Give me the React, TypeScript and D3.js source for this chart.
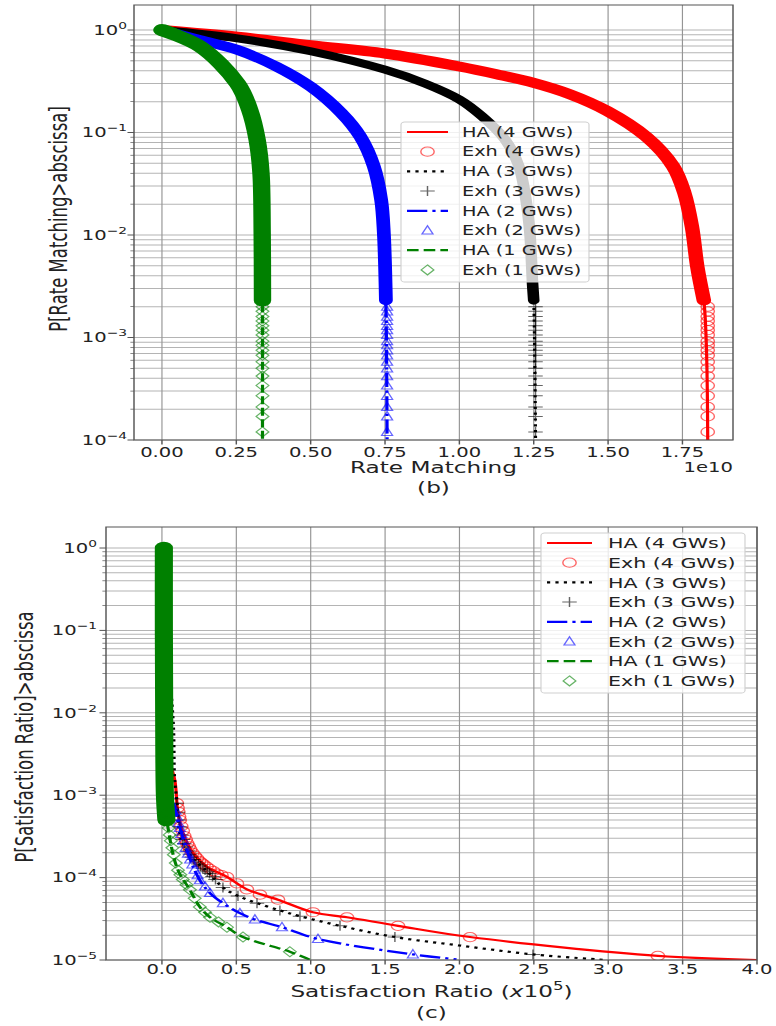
import React from 'react';
import * as d3 from 'd3';

type Pt = [number, number];

// the reference picture is stretched sideways, so draw in a narrower box and let the svg stretch it
const SX = 1.45;
const VW = 776 / SX;
const sx = (v: number) => v / SX;

const seriesColors = ['#ff0000', '#000000', '#0000ff', '#008000'];
const seriesDash = ['none', '2.2,3.6', '14,3.5,2.2,3.5', '8,3.5'];
const seriesShape = ['circle', 'plus', 'triangle', 'diamond'];
const legendNames = [
  'HA (4 GWs)', 'Exh (4 GWs)', 'HA (3 GWs)', 'Exh (3 GWs)',
  'HA (2 GWs)', 'Exh (2 GWs)', 'HA (1 GWs)', 'Exh (1 GWs)',
];

// ---- (b) Rate Matching, x in units of 1e10 ----
const rmTicks = [0, 0.25, 0.5, 0.75, 1.0, 1.25, 1.5, 1.75];
const rmDecades = [0, -1, -2, -3, -4];
const rmHA4: Pt[] = [[0, 1], [0.254, 0.86], [0.5, 0.71], [0.75, 0.59], [1.0, 0.44], [1.125, 0.37], [1.25, 0.305], [1.37, 0.237], [1.497, 0.162], [1.628, 0.091], [1.718, 0.047], [1.756, 0.026], [1.782, 0.012], [1.8, 4.9e-3], [1.822, 2.3e-3]];
const rmHA3: Pt[] = [[0, 1], [0.254, 0.83], [0.5, 0.62], [0.75, 0.41], [0.885, 0.3], [1.0, 0.21], [1.077, 0.143], [1.154, 0.085], [1.2, 0.047], [1.224, 0.022], [1.237, 0.0105], [1.246, 3.4e-3], [1.25, 2.3e-3]];
const rmHA2: Pt[] = [[0, 1], [0.128, 0.8], [0.254, 0.64], [0.385, 0.44], [0.5, 0.28], [0.603, 0.155], [0.667, 0.091], [0.712, 0.047], [0.737, 0.022], [0.746, 0.0105], [0.753, 2.3e-3]];
const rmHA1: Pt[] = [[0, 1], [0.128, 0.69], [0.254, 0.3], [0.295, 0.166], [0.32, 0.085], [0.333, 0.04], [0.337, 0.0105], [0.338, 2.3e-3]];
const rmTailX = [1.835, 1.256, 0.757, 0.338];
const rmTailP = [2.0e-3, 1.8e-3, 1.6e-3, 1.45e-3, 1.3e-3, 1.18e-3, 1.06e-3, 9.2e-4, 8.4e-4, 7.5e-4, 6.7e-4, 5.8e-4, 5.0e-4, 4.2e-4, 3.4e-4, 2.7e-4, 2.1e-4, 1.7e-4, 1.2e-4];
const rmMinP = 1e-4;

// ---- (c) Satisfaction Ratio, x in units of 1e5 ----
const srTicks = [0, 0.5, 1.0, 1.5, 2.0, 2.5, 3.0, 3.5, 4.0];
const srDecades = [0, -1, -2, -3, -4, -5];
const srHA4: Pt[] = [[0.01, 1], [0.015, 0.1], [0.02, 0.01], [0.04, 3.2e-3], [0.087, 1.5e-3], [0.108, 6.0e-4], [0.141, 3.5e-4], [0.208, 2.0e-4], [0.303, 1.35e-4], [0.437, 1.02e-4], [0.571, 7.2e-5], [0.78, 5.4e-5], [1.015, 3.8e-5], [1.244, 3.3e-5], [1.587, 2.6e-5], [2.071, 1.9e-5], [3.334, 1.12e-5], [4.0, 1.0e-5]];
const srExh4: Pt[] = [[0.1, 8e-4], [0.105, 7e-4], [0.11, 6.3e-4], [0.115, 5.5e-4], [0.12, 5e-4], [0.13, 4.2e-4], [0.14, 3.7e-4], [0.15, 3.2e-4], [0.16, 2.9e-4], [0.17, 2.6e-4], [0.18, 2.4e-4], [0.19, 2.2e-4], [0.205, 2.0e-4], [0.22, 1.85e-4], [0.235, 1.72e-4], [0.25, 1.6e-4], [0.265, 1.52e-4], [0.28, 1.45e-4], [0.3, 1.36e-4], [0.32, 1.28e-4], [0.345, 1.2e-4], [0.37, 1.12e-4], [0.4, 1.07e-4], [0.437, 1.02e-4], [0.504, 8.5e-5], [0.571, 7.2e-5], [0.659, 6.2e-5], [0.78, 5.4e-5], [1.015, 3.8e-5], [1.244, 3.3e-5], [1.587, 2.6e-5], [2.071, 1.9e-5], [3.334, 1.12e-5]];
const srHA3: Pt[] = [[0.01, 1], [0.03, 0.1], [0.06, 0.02], [0.078, 6.3e-3], [0.085, 1.6e-3], [0.1, 8.7e-4], [0.13, 2.9e-4], [0.2, 1.78e-4], [0.32, 1.12e-4], [0.41, 7.6e-5], [0.511, 6.0e-5], [0.639, 4.9e-5], [0.793, 4.0e-5], [0.928, 3.4e-5], [1.197, 2.6e-5], [1.566, 1.9e-5], [2.0, 1.5e-5], [2.494, 1.17e-5], [2.99, 1.0e-5]];
const srExh3: Pt[] = [[0.1, 8e-4], [0.108, 6.2e-4], [0.115, 5e-4], [0.122, 4.1e-4], [0.13, 3.3e-4], [0.14, 2.9e-4], [0.15, 2.6e-4], [0.162, 2.35e-4], [0.175, 2.1e-4], [0.188, 1.92e-4], [0.2, 1.78e-4], [0.215, 1.66e-4], [0.23, 1.55e-4], [0.245, 1.46e-4], [0.26, 1.38e-4], [0.275, 1.3e-4], [0.29, 1.24e-4], [0.305, 1.18e-4], [0.32, 1.12e-4], [0.34, 1.03e-4], [0.36, 9.5e-5], [0.41, 7.6e-5], [0.511, 6.0e-5], [0.639, 4.9e-5], [0.793, 4.0e-5], [0.928, 3.4e-5], [1.197, 2.6e-5], [1.566, 1.9e-5], [2.494, 1.17e-5]];
const srHA2: Pt[] = [[0.01, 1], [0.015, 0.1], [0.02, 0.01], [0.05, 1.6e-3], [0.08, 7.9e-4], [0.12, 4.1e-4], [0.19, 1.66e-4], [0.255, 9.3e-5], [0.323, 6.5e-5], [0.41, 4.9e-5], [0.524, 3.7e-5], [0.625, 3.1e-5], [0.807, 2.5e-5], [1.049, 1.8e-5], [1.687, 1.17e-5], [1.98, 1.02e-5]];
const srExh2: Pt[] = [[0.09, 6.5e-4], [0.1, 5.5e-4], [0.11, 4.6e-4], [0.12, 4.0e-4], [0.13, 3.4e-4], [0.145, 2.8e-4], [0.16, 2.3e-4], [0.175, 1.95e-4], [0.19, 1.66e-4], [0.205, 1.45e-4], [0.22, 1.25e-4], [0.24, 1.07e-4], [0.255, 9.3e-5], [0.29, 7.8e-5], [0.323, 6.5e-5], [0.41, 4.9e-5], [0.524, 3.7e-5], [0.625, 3.1e-5], [0.807, 2.5e-5], [1.049, 1.8e-5], [1.687, 1.17e-5]];
const srHA1: Pt[] = [[0.013, 1], [0.013, 0.1], [0.015, 0.01], [0.02, 1e-3], [0.05, 3.2e-4], [0.108, 1.23e-4], [0.188, 7.1e-5], [0.255, 4.4e-5], [0.323, 3.3e-5], [0.437, 2.5e-5], [0.545, 1.9e-5], [0.86, 1.26e-5], [1.0, 1.0e-5]];
const srExh1: Pt[] = [[0.03, 6e-4], [0.037, 5e-4], [0.045, 4e-4], [0.052, 3.3e-4], [0.06, 2.8e-4], [0.07, 2.3e-4], [0.08, 1.9e-4], [0.093, 1.5e-4], [0.108, 1.23e-4], [0.124, 1.08e-4], [0.14, 9.5e-5], [0.165, 8.2e-5], [0.188, 7.1e-5], [0.22, 5.6e-5], [0.255, 4.4e-5], [0.29, 3.8e-5], [0.323, 3.3e-5], [0.38, 2.9e-5], [0.437, 2.5e-5], [0.545, 1.9e-5], [0.86, 1.26e-5]];
const srBand1: Pt[] = [[0.013, 1], [0.013, 0.1], [0.015, 0.01], [0.02, 1e-3], [0.03, 5e-4]];

type Legend = { left: number; top: number; right: number; bottom: number; row0: number; step: number; hL: number; hR: number; textX: number; fs: number };
type PanelProps = {
  id: string;
  left: number; right: number; top: number; bottom: number;
  xDomain: [number, number]; yDomain: [number, number];
  xTicks: number[]; xFmt: (v: number) => string; decades: number[];
  lines: Pt[][]; bands: { pts: Pt[]; w: number }[][]; markers: Pt[][];
  legend: Legend;
  yLabel: string; yLabelX: number; yLabelY: number;
  tickY: number; yTickRight: number;
  title: React.ReactNode; titleY: number; sub: string; subY: number;
  offset?: string; offsetY?: number;
};

function Marker({ shape, x, y, color }: { shape: string; x: number; y: number; color: string }) {
  if (shape === 'circle')
    return <circle cx={x} cy={y} r={4.6} fill="none" stroke={color} strokeOpacity={0.6} strokeWidth={1} />;
  const d =
    shape === 'plus' ? 'M-5,0H5M0,-5V5' : shape === 'triangle' ? 'M0,-4.8L3.8,3.6L-3.8,3.6Z' : 'M0,-5L4.4,0L0,5L-4.4,0Z';
  return <path transform={`translate(${x},${y})`} d={d} fill="none" stroke={color} strokeOpacity={0.6} strokeWidth={1} />;
}

function Panel(p: PanelProps) {
  const L = sx(p.left);
  const R = sx(p.right);
  const x = d3.scaleLinear().domain(p.xDomain).range([L, R]);
  const y = d3.scaleLog().domain(p.yDomain).range([p.bottom, p.top]);
  const path = d3
    .line<Pt>()
    .x((d) => x(d[0]))
    .y((d) => y(d[1]))
    .curve(d3.curveCatmullRom.alpha(0.5));

  // minor and major grid values
  const gridVals: number[] = [];
  const [lo, hi] = p.yDomain;
  for (let e = Math.floor(Math.log10(lo) + 1e-9); e <= Math.ceil(Math.log10(hi)); e++) {
    for (let k = 1; k <= 9; k++) {
      const v = k * Math.pow(10, e);
      if (v >= lo * 0.9999 && v <= hi) gridVals.push(v);
    }
  }
  const lg = p.legend;

  return (
    <g>
      <defs>
        <clipPath id={p.id}>
          <rect x={L} y={p.top} width={R - L} height={p.bottom - p.top} />
        </clipPath>
      </defs>
      <rect x={L} y={p.top} width={R - L} height={p.bottom - p.top} fill="#fff" />
      {/* grid */}
      {gridVals.map((v, i) => (
        <line key={'h' + i} x1={L} x2={R} y1={y(v)} y2={y(v)} stroke="#b4b4b4" strokeWidth={1} />
      ))}
      {p.xTicks.map((t, i) => (
        <line key={'v' + i} x1={x(t)} x2={x(t)} y1={p.top} y2={p.bottom} stroke="#959595" strokeWidth={0.8} />
      ))}

      {/* series */}
      <g clipPath={`url(#${p.id})`}>
        {p.lines.map((ln, i) => (
          <g key={i}>
            <path d={path(ln) || ''} fill="none" stroke={seriesColors[i]} strokeWidth={2.2} strokeDasharray={seriesDash[i]} />
            {p.bands[i].map((b, j) => (
              <path key={j} d={path(b.pts) || ''} fill="none" stroke={seriesColors[i]} strokeWidth={b.w} strokeLinecap="round" strokeLinejoin="round" />
            ))}
            {p.markers[i].map((m, j) => (
              <Marker key={j} shape={seriesShape[i]} x={x(m[0])} y={y(m[1])} color={seriesColors[i]} />
            ))}
          </g>
        ))}
      </g>

      {/* frame */}
      <rect x={L} y={p.top} width={R - L} height={p.bottom - p.top} fill="none" stroke="#555" strokeWidth={1} />

      {/* y ticks */}
      {gridVals.map((v, i) => {
        const major = Math.abs(Math.log10(v) - Math.round(Math.log10(v))) < 1e-6;
        return <line key={'yt' + i} x1={L} x2={L - (major ? 4.5 : 2.5)} y1={y(v)} y2={y(v)} stroke="#555" strokeWidth={major ? 1 : 0.7} />;
      })}
      {p.decades.map((e) => (
        <text key={'yl' + e} x={sx(p.yTickRight)} y={y(Math.pow(10, e)) + 4.7} textAnchor="end" fontSize={13.5} fill="#222">
          10
          <tspan dy={-6} fontSize={9.5}>{e === 0 ? '0' : '\u2212' + -e}</tspan>
        </text>
      ))}

      {/* x ticks */}
      {p.xTicks.map((t, i) => (
        <g key={'xt' + i}>
          <line x1={x(t)} x2={x(t)} y1={p.bottom} y2={p.bottom + 4.5} stroke="#555" strokeWidth={1} />
          <text x={x(t)} y={p.tickY} textAnchor="middle" fontSize={13.5} fill="#222">
            {p.xFmt(t)}
          </text>
        </g>
      ))}
      {p.offset && (
        <text x={R} y={p.offsetY} textAnchor="end" fontSize={13.5} fill="#222">
          {p.offset}
        </text>
      )}

      {/* axis labels */}
      <text x={(L + R) / 2} y={p.titleY} textAnchor="middle" fontSize={16} fill="#222">
        {p.title}
      </text>
      <text x={(L + R) / 2} y={p.subY} textAnchor="middle" fontSize={16} fill="#222">
        {p.sub}
      </text>
      <text
        transform={`translate(${sx(p.yLabelX)},${p.yLabelY}) rotate(-90)`}
        dy="0.36em"
        textAnchor="middle"
        fontSize={16.5}
        fill="#222"
      >
        {p.yLabel}
      </text>

      {/* legend */}
      <rect
        x={sx(lg.left)}
        y={lg.top}
        width={sx(lg.right - lg.left)}
        height={lg.bottom - lg.top}
        rx={2.5}
        fill="#fff"
        fillOpacity={0.8}
        stroke="#d0d0d0"
        strokeWidth={0.8}
      />
      {legendNames.map((name, k) => {
        const i = Math.floor(k / 2);
        const ry = lg.row0 + k * lg.step;
        const cx = sx((lg.hL + lg.hR) / 2);
        return (
          <g key={'lg' + k}>
            {k % 2 === 0 ? (
              <line x1={sx(lg.hL)} x2={sx(lg.hR)} y1={ry} y2={ry} stroke={seriesColors[i]} strokeWidth={2.2} strokeDasharray={seriesDash[i]} />
            ) : (
              <Marker shape={seriesShape[i]} x={cx} y={ry} color={seriesColors[i]} />
            )}
            <text x={sx(lg.textX)} y={ry + lg.fs * 0.36} fontSize={lg.fs} fill="#222">
              {name}
            </text>
          </g>
        );
      })}
    </g>
  );
}

const rmLines = [rmHA4, rmHA3, rmHA2, rmHA1].map((c, i) => [...c, [rmTailX[i], rmMinP] as Pt]);
const rmBandW = [10, 8, 9.5, 12];
const rmBands = [rmHA4, rmHA3, rmHA2, rmHA1].map((c, i) => [{ pts: c, w: rmBandW[i] }]);
const rmMarkers = rmTailX.map((tx) => rmTailP.map((tp) => [tx, tp] as Pt));

const srBands = [[], [], [], [{ pts: srBand1, w: 12.5 }]];

export default function App() {
  return (
    <svg
      width={776}
      height={1026}
      viewBox={`0 0 ${VW} 1026`}
      preserveAspectRatio="none"
      fontFamily="'DejaVu Sans', sans-serif"
      style={{ position: 'absolute', left: 0, top: 0, background: '#fff' }}
    >
      <Panel
        id="clipB"
        left={134}
        right={733}
        top={5}
        bottom={440}
        xDomain={[-0.094, 1.92]}
        yDomain={[1e-4, Math.pow(10, 0.244)]}
        xTicks={rmTicks}
        xFmt={d3.format('.2f')}
        decades={rmDecades}
        lines={rmLines}
        bands={rmBands}
        markers={rmMarkers}
        legend={{ left: 401, right: 589, top: 122, bottom: 282, row0: 132, step: 19.7, hL: 407, hR: 448, textX: 462, fs: 13.3 }}
        yLabel="P[Rate Matching>abscissa]"
        yLabelX={58}
        yLabelY={219}
        tickY={457}
        yTickRight={127}
        title="Rate Matching"
        titleY={473}
        sub="(b)"
        subY={493}
        offset="1e10"
        offsetY={472}
      />
      <Panel
        id="clipC"
        left={106}
        right={757}
        top={527}
        bottom={960}
        xDomain={[-0.376, 4.0]}
        yDomain={[1e-5, Math.pow(10, 0.255)]}
        xTicks={srTicks}
        xFmt={d3.format('.1f')}
        decades={srDecades}
        lines={[srHA4, srHA3, srHA2, srHA1]}
        bands={srBands}
        markers={[srExh4, srExh3, srExh2, srExh1]}
        legend={{ left: 541, right: 745, top: 533, bottom: 693, row0: 543, step: 19.7, hL: 547, hR: 592, textX: 608, fs: 14.2 }}
        yLabel="P[Satisfaction Ratio]>abscissa"
        yLabelX={24}
        yLabelY={737}
        tickY={974}
        yTickRight={97}
        title={
          <>
            Satisfaction Ratio (<tspan fontStyle="italic">x</tspan>10
            <tspan dy={-7} fontSize={11.5}>5</tspan>
            <tspan dy={7}>)</tspan>
          </>
        }
        titleY={997}
        sub="(c)"
        subY={1018}
      />
    </svg>
  );
}
